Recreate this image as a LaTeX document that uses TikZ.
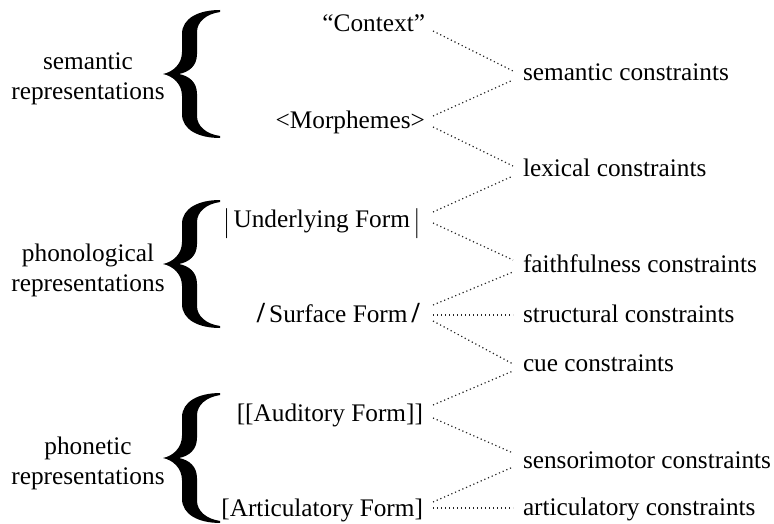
\documentclass[tikz,border=0pt]{standalone}
\usepackage{fontspec}
\setmainfont{Liberation Serif}
\usetikzlibrary{calc}
\begin{document}
\begin{tikzpicture}[x=1pt,y=-1pt,
  every node/.style={inner sep=0pt, outer sep=0pt, font=\fontsize{25.3}{30}\selectfont},
  rep/.style={anchor=base east},
  con/.style={anchor=base west},
  grp/.style={align=center, anchor=center},
  link/.style={line width=1.2pt, dash pattern=on 1.2pt off 2.8pt, black!85},
  bigbrace/.pic={
    \fill (0,0) .. controls (10,-2) and (19,-10) .. (19,-22) -- (19,-40)
      .. controls (19,-56) and (36,-64) .. (57,-64) -- (57,-62)
      .. controls (43,-60) and (34,-52) .. (34,-42) -- (34,-20)
      .. controls (34,-8) and (26,-2) .. (16,0)
      .. controls (26,2) and (34,8) .. (34,20) -- (34,42)
      .. controls (34,52) and (43,60) .. (57,62) -- (57,64)
      .. controls (36,64) and (19,56) .. (19,40) -- (19,22)
      .. controls (19,10) and (10,2) .. (0,0) -- cycle;
  }
]
\useasboundingbox (0,0) rectangle (774,524);

% braces
\pic at (163,74) {bigbrace};
\pic at (163,264) {bigbrace};
\pic[yscale=1.015] at (163,458) {bigbrace};

% group labels
\node[grp] (g1) at (88,78.5) {semantic\\representations};
\node[grp] (g2) at (88,270.5) {phonological\\representations};
\node[grp] (g3) at (88,463.5) {phonetic\\representations};

% representations
\node[rep] (ctx) at (425,32) {“Context”};
\node[rep] (mor) at (425,129) {<Morphemes>};
\node[rep] (und) at (419,227) {\raisebox{-4pt}{\scalebox{0.8}[1.3]{|}}\kern5pt Underlying Form\kern5pt\raisebox{-4pt}{\scalebox{0.8}[1.3]{|}}};
\node[rep] (sur) at (420,322) {\scalebox{1.15}{\textbf{/}}\kern4pt Surface Form\kern4pt\scalebox{1.15}{\textbf{/}}};
\node[rep] (aud) at (423,421) {[[Auditory Form]]};
\node[rep] (art) at (423,516) {[Articulatory Form]};

% constraints
\node[con] (sem) at (523,81) {semantic constraints};
\node[con] (lex) at (523,177) {lexical constraints};
\node[con] (fai) at (523,272) {faithfulness constraints};
\node[con] (str) at (523,322) {structural constraints};
\node[con] (cue) at (523,371) {cue constraints};
\node[con] (sen) at (523,468) {sensorimotor constraints};
\node[con] (arc) at (523,515) {articulatory constraints};

% links
\draw[link] ($(ctx.base east)+(8,-1)$) -- ($(sem.base west)+(-10,-10)$);
\draw[link] ($(mor.base east)+(8,-13)$) -- ($(sem.base west)+(-10,-1)$);
\draw[link] ($(mor.base east)+(8,-2)$) -- ($(lex.base west)+(-10,-11)$);
\draw[link] ($(und.base east)+(14,-15)$) -- ($(lex.base west)+(-10,-1)$);
\draw[link] ($(und.base east)+(14,-4)$) -- ($(fai.base west)+(-10,-12)$);
\draw[link] ($(sur.base east)+(13,-17)$) -- ($(fai.base west)+(-10,0)$);
\draw[link] ($(sur.base east)+(13,-7)$) -- ($(str.base west)+(-10,-7)$);
\draw[link] ($(sur.base east)+(13,-1)$) -- ($(cue.base west)+(-10,-7)$);
\draw[link] ($(aud.base east)+(10,-16)$) -- ($(cue.base west)+(-10,0)$);
\draw[link] ($(aud.base east)+(10,-3)$) -- ($(sen.base west)+(-10,-15)$);
\draw[link] ($(art.base east)+(10,-14)$) -- ($(sen.base west)+(-10,-1)$);
\draw[link] ($(art.base east)+(10,-8)$) -- ($(arc.base west)+(-10,-7)$);
\end{tikzpicture}
\end{document}
